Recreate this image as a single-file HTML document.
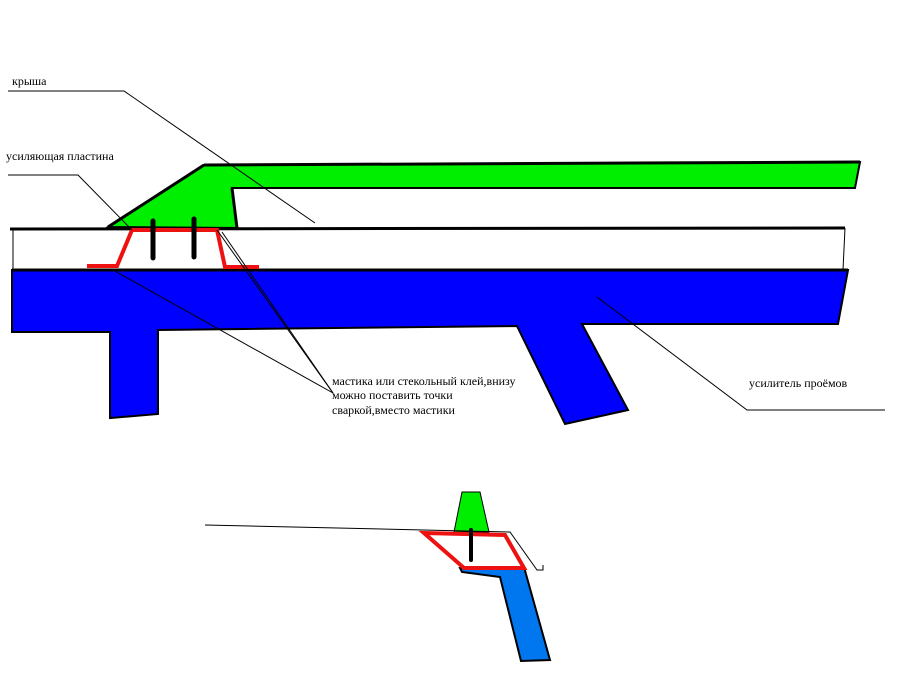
<!DOCTYPE html>
<html><head><meta charset="utf-8"><style>
html,body{margin:0;padding:0;background:#fff;width:902px;height:676px;overflow:hidden}
text{font-family:"Liberation Serif",serif;font-size:12px;fill:#000}
</style></head><body>
<svg width="902" height="676" viewBox="0 0 902 676" xmlns="http://www.w3.org/2000/svg">
<!-- blue profile -->
<polygon points="12,270 848,270 838,324 582,324 628,410 565,424 517,326 158,330 158,414 110,418 110,332 12,332" fill="#0000ff" stroke="#000" stroke-width="2"/>
<!-- green roof -->
<polygon points="108,227 204,165 860,162 855,188 232,188 237,228" fill="#00ee00" stroke="#000" stroke-width="2"/>
<line x1="108" y1="227" x2="204" y2="165" stroke="#000" stroke-width="3"/>
<line x1="204" y1="165" x2="860" y2="162" stroke="#000" stroke-width="3"/>
<line x1="232" y1="188" x2="237" y2="228" stroke="#000" stroke-width="3"/>
<!-- glass lines -->
<line x1="10" y1="229" x2="845" y2="228" stroke="#000" stroke-width="3"/>
<line x1="12" y1="270" x2="848" y2="270" stroke="#000" stroke-width="3"/>
<line x1="13" y1="230" x2="13" y2="270" stroke="#000" stroke-width="1"/>
<line x1="845" y1="228" x2="843" y2="270" stroke="#000" stroke-width="1"/>
<!-- red plate -->
<polyline points="87,266 117,266 132,230 217,230 225,267 259,267" fill="none" stroke="#ee1111" stroke-width="4"/>
<line x1="153" y1="221" x2="153" y2="258" stroke="#000" stroke-width="5" stroke-linecap="round"/>
<line x1="194" y1="219" x2="194" y2="257" stroke="#000" stroke-width="5" stroke-linecap="round"/>
<!-- leader lines -->
<g stroke="#000" stroke-width="1" fill="none">
<polyline points="8,91 124,91 315,223"/>
<polyline points="8,175 78,175 132,230"/>
<line x1="113" y1="270" x2="333" y2="393"/>
<line x1="217" y1="230" x2="333" y2="393"/>
<line x1="222" y1="232" x2="333" y2="393"/>
<polyline points="597,297 747,410 885,410"/>
</g>
<text x="12" y="85">крыша</text>
<text x="6" y="160">усиляющая пластина</text>
<text x="332" y="385">мастика или стекольный клей,внизу</text>
<text x="332" y="399">можно поставить точки</text>
<text x="332" y="414">сваркой,вместо мастики</text>
<text x="749" y="387">усилитель проёмов</text>
<!-- lower detail -->
<polygon points="462,492 480,492 489,532 454,532" fill="#00ee00" stroke="#000" stroke-width="1"/>
<polygon points="460,568 524,567 550,660 521,661 500,577 462,572" fill="#0077ee" stroke="#000" stroke-width="2"/>
<g stroke="#000" stroke-width="1" fill="none">
<polyline points="205,525 510,532 537,570 543,570 543,565"/>
</g>
<polygon points="424,533 505,535 524,568 464,568" fill="#fff" stroke="#ee1111" stroke-width="4"/>
<line x1="471" y1="530" x2="471" y2="560" stroke="#000" stroke-width="4" stroke-linecap="round"/>
</svg>
</body></html>
